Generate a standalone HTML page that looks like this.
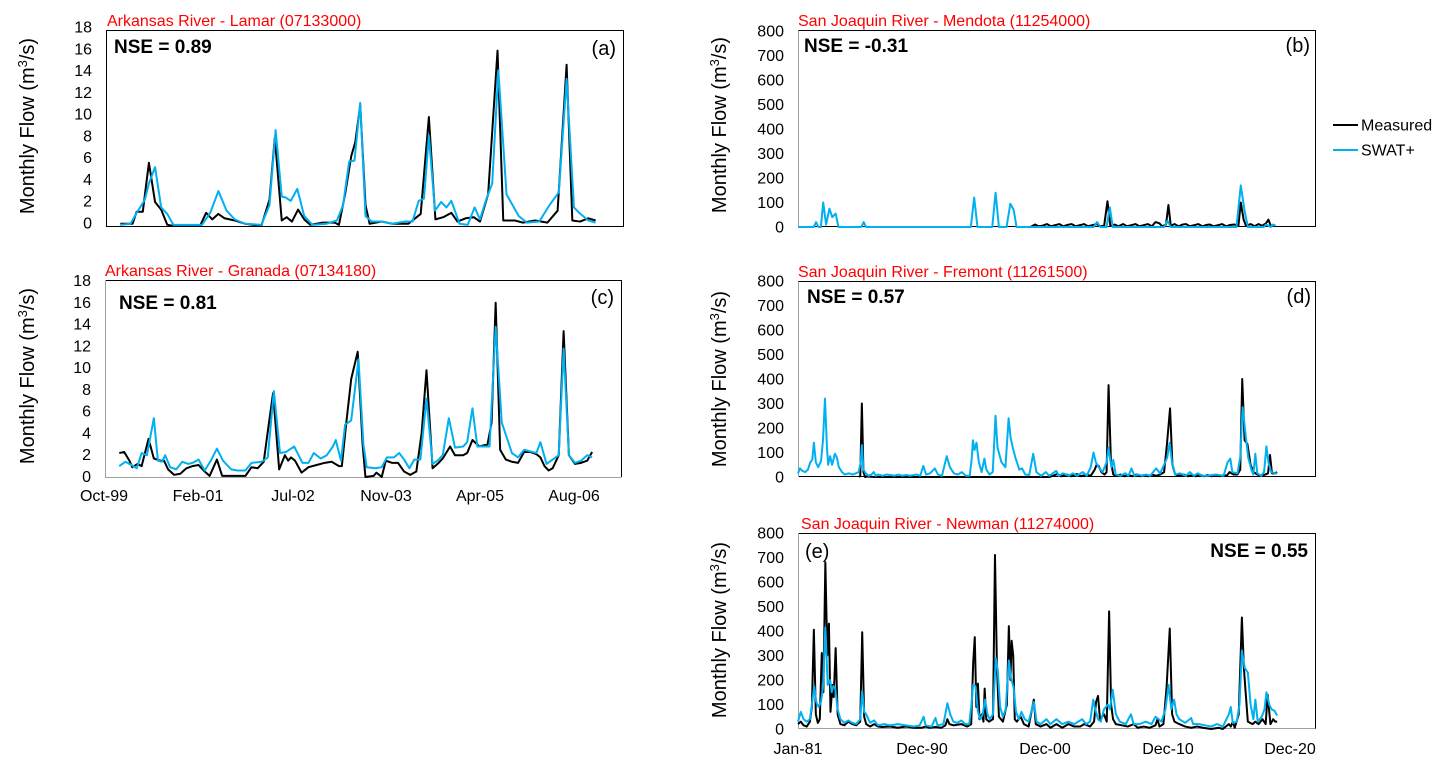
<!DOCTYPE html>
<html>
<head>
<meta charset="utf-8">
<style>
html,body{margin:0;padding:0;background:#fff;}
svg{display:block;font-family:"Liberation Sans",Arial,sans-serif;}
.tl{font-size:16px;fill:#000;}
.ttl{font-size:16px;fill:#ff0000;}
.nse{font-size:19px;font-weight:bold;fill:#000;}
.pl{font-size:20px;fill:#000;}
.yl{font-size:20px;fill:#000;}
.k{fill:none;stroke:#000;stroke-width:2;stroke-linejoin:round;}
.b{fill:none;stroke:#00B0F0;stroke-width:2;stroke-linejoin:round;}
</style>
</head>
<body>
<svg width="1446" height="767" viewBox="0 0 1446 767" xmlns="http://www.w3.org/2000/svg">
<rect width="1446" height="767" fill="#fff"/>

<!-- ================= Panel (a) ================= -->
<text class="ttl" x="107" y="26">Arkansas River - Lamar (07133000)</text>
<text class="yl" transform="translate(34,126) rotate(-90)" text-anchor="middle">Monthly Flow (m<tspan font-size="13" dy="-7">3</tspan><tspan dy="7">/s)</tspan></text>
<g class="tl" text-anchor="end">
<text x="92" y="32.5">18</text><text x="92" y="54.3">16</text><text x="92" y="76.1">14</text>
<text x="92" y="97.8">12</text><text x="92" y="119.6">10</text><text x="92" y="141.4">8</text>
<text x="92" y="163.2">6</text><text x="92" y="184.9">4</text><text x="92" y="206.7">2</text>
<text x="92" y="228.5">0</text>
</g>
<rect x="106.5" y="30.5" width="517" height="196" fill="none" stroke="#000" stroke-width="1"/>
<svg x="106" y="31" width="517" height="196" viewBox="260 -18 1265 18" preserveAspectRatio="none" overflow="visible">
<polyline class="k" vector-effect="non-scaling-stroke" points="295,-0.3 325,-0.3 335,-1.4 350,-1.4 365,-5.9 380,-2.3 395,-1.6 410,-0.2 425,-0.1 490,-0.1 505,-1.3 520,-0.7 535,-1.2 550,-0.8 575,-0.6 600,-0.3 640,-0.1 660,-2.5 673,-8.2 690,-0.6 702,-0.9 715,-0.5 730,-1.6 745,-0.7 760,-0.2 790,-0.4 820,-0.4 830,-0.2 845,-3 860,-6.5 870,-7.8 882,-11.2 895,-2 905,-0.3 920,-0.4 935,-0.5 960,-0.3 1000,-0.3 1030,-1.2 1050,-10.1 1066,-0.7 1085,-0.9 1105,-1.3 1120,-0.5 1140,-0.8 1160,-0.9 1175,-0.5 1195,-3 1218,-16.2 1232,-0.6 1260,-0.6 1280,-0.4 1310,-0.6 1340,-0.4 1365,-1.5 1387,-14.9 1401,-0.6 1420,-0.5 1440,-0.8 1458,-0.6"/>
<polyline class="b" vector-effect="non-scaling-stroke" points="295,-0.2 320,-0.3 335,-1.3 355,-2.5 365,-4 380,-5.5 395,-1.8 410,-1.2 425,-0.2 495,-0.2 515,-1.3 535,-3.3 555,-1.5 575,-0.7 600,-0.3 640,-0.2 660,-2 675,-8.9 690,-2.8 700,-2.7 712,-2.4 728,-3.5 745,-1 765,-0.2 800,-0.3 825,-0.6 840,-2 855,-6 868,-6.1 882,-11.4 895,-1 910,-0.5 935,-0.5 960,-0.3 990,-0.5 1010,-0.5 1025,-2.4 1038,-2.6 1050,-8.4 1065,-1.5 1080,-2.3 1093,-1.8 1105,-2.4 1125,-0.3 1145,-0.2 1162,-1.8 1175,-0.7 1190,-2.5 1205,-4 1220,-14.4 1240,-3 1270,-1 1290,-0.4 1320,-0.5 1345,-2 1368,-3.2 1387,-13.6 1405,-1.8 1418,-1.3 1440,-0.6 1458,-0.4"/>
</svg>
<text class="nse" x="114" y="53">NSE = 0.89</text>
<text class="pl" x="616" y="55" text-anchor="end">(a)</text>

<!-- ================= Panel (c) ================= -->
<text class="ttl" x="105" y="276">Arkansas River - Granada (07134180)</text>
<text class="yl" transform="translate(34,376) rotate(-90)" text-anchor="middle">Monthly Flow (m<tspan font-size="13" dy="-7">3</tspan><tspan dy="7">/s)</tspan></text>
<g class="tl" text-anchor="end">
<text x="91" y="286">18</text><text x="91" y="307.8">16</text><text x="91" y="329.6">14</text>
<text x="91" y="351.3">12</text><text x="91" y="373.1">10</text><text x="91" y="394.9">8</text>
<text x="91" y="416.7">6</text><text x="91" y="438.4">4</text><text x="91" y="460.2">2</text>
<text x="91" y="482">0</text>
</g>
<path d="M105.5 280.5 H621.5 V477" fill="none" stroke="#000" stroke-width="1"/>
<path d="M105.5 280 V477.5 H621.5" fill="none" stroke="#a0a0a0" stroke-width="1"/>
<svg x="105" y="281" width="516" height="196" viewBox="255 -18 1268 18" preserveAspectRatio="none" overflow="visible">
<polyline class="k" vector-effect="non-scaling-stroke" points="290,-2.2 302,-2.3 315,-1.5 322,-0.9 335,-1.2 345,-1 362,-3.5 375,-1.7 390,-1.5 400,-1.5 410,-0.7 425,-0.2 440,-0.3 455,-0.8 470,-1 485,-1.1 500,-0.5 512,-0.1 530,-1.6 543,-0.1 560,-0.1 600,-0.1 615,-0.9 630,-0.8 645,-1.4 658,-5 668,-7.7 683,-0.7 697,-2 705,-1.5 712,-1.8 722,-1.5 738,-0.4 755,-0.9 775,-1.1 795,-1.3 812,-1.4 830,-1 837,-1 848,-5 860,-9 876,-11.5 888,-3 895,0 915,-0.1 922,-0.4 935,0 945,-1.5 960,-1.3 975,-1.3 990,-0.5 1005,-0.2 1020,-0.5 1033,-4 1045,-9.8 1060,-0.8 1075,-1.3 1085,-1.7 1103,-2.8 1115,-2 1135,-2 1145,-2.2 1158,-3.4 1175,-2.8 1195,-3 1205,-5 1215,-16 1226,-2.5 1240,-1.6 1255,-1.4 1270,-1.3 1285,-2.3 1300,-2.3 1315,-2.1 1325,-1.8 1335,-1 1345,-0.6 1355,-0.8 1370,-2 1382,-13.4 1395,-2 1410,-1.2 1425,-1.3 1440,-1.5 1452,-2.3"/>
<polyline class="b" vector-effect="non-scaling-stroke" points="290,-1 305,-1.4 320,-1.1 333,-0.8 345,-2.2 358,-2 375,-5.4 385,-1.5 395,-1.4 403,-2 415,-0.9 430,-0.7 445,-1.4 460,-1.2 470,-1.3 485,-1.6 500,-0.6 515,-1.5 530,-2.6 545,-1.5 565,-0.7 580,-0.6 600,-0.6 615,-1.3 640,-1.4 655,-1.8 670,-7.9 685,-2.2 700,-2.3 720,-2.8 740,-1.3 755,-1.3 768,-2.2 785,-1.7 800,-2 815,-2.8 822,-3.4 835,-1.5 845,-4.8 860,-5.2 878,-10.8 890,-3 898,-0.9 920,-0.8 935,-0.9 948,-1.8 965,-1.8 978,-2.2 990,-1.6 1003,-0.8 1015,-1.6 1030,-1.6 1045,-7.2 1060,-1.2 1072,-1.5 1085,-2 1100,-5.4 1115,-2.7 1135,-2.8 1145,-3.2 1158,-6.3 1170,-2.8 1190,-2.8 1200,-2.8 1215,-13.8 1230,-5 1255,-2.2 1270,-1.8 1285,-2.5 1305,-2.3 1315,-2.2 1325,-3.2 1340,-1.2 1355,-1.6 1370,-2 1382,-11.8 1395,-2 1410,-1.3 1425,-1.5 1440,-2 1452,-1.8"/>
</svg>
<text class="nse" x="119" y="309">NSE = 0.81</text>
<text class="pl" x="614" y="304" text-anchor="end">(c)</text>
<g class="tl" text-anchor="middle">
<text x="104" y="501">Oct-99</text><text x="198" y="501">Feb-01</text><text x="293" y="501">Jul-02</text>
<text x="386" y="501">Nov-03</text><text x="480" y="501">Apr-05</text><text x="574" y="501">Aug-06</text>
</g>

<!-- ================= Panel (b) ================= -->
<text class="ttl" x="798" y="26">San Joaquin River - Mendota (11254000)</text>
<text class="yl" transform="translate(726,125) rotate(-90)" text-anchor="middle">Monthly Flow (m<tspan font-size="13" dy="-7">3</tspan><tspan dy="7">/s)</tspan></text>
<g class="tl" text-anchor="end">
<text x="784" y="36.5">800</text><text x="784" y="61">700</text><text x="784" y="85.5">600</text>
<text x="784" y="110">500</text><text x="784" y="134.5">400</text><text x="784" y="159">300</text>
<text x="784" y="183.5">200</text><text x="784" y="208">100</text><text x="784" y="232.5">0</text>
</g>
<path d="M798 30.5 H1315.5 V226.5 H798" fill="none" stroke="#000" stroke-width="1"/>
<path d="M798.5 30.5 V227" fill="none" stroke="#a0a0a0" stroke-width="1"/>
<svg x="798" y="31" width="518" height="196" viewBox="207 -800 1088 800" preserveAspectRatio="none" overflow="visible">
<polyline class="k" vector-effect="non-scaling-stroke" points="695,0 705,-10 712,-3 720,-5 730,-12 738,-3 748,-8 756,-12 764,-3 772,-8 782,-12 790,-3 800,-8 808,-12 816,-3 826,-8 834,-12 842,-3 850,-5 857,-105 863,-5 872,-10 880,-3 890,-12 898,-3 908,-8 916,-12 924,-3 934,-8 942,-12 950,-3 958,-20 966,-15 972,-3 980,-10 985,-90 990,-5 998,-12 1006,-3 1015,-10 1022,-12 1030,-3 1040,-8 1048,-12 1056,-3 1064,-8 1072,-10 1080,-3 1090,-8 1098,-12 1106,-3 1114,-8 1124,-10 1132,-5 1137,-100 1143,-30 1148,-5 1158,-12 1166,-3 1174,-12 1182,-5 1190,-15 1195,-30 1200,-5 1210,-5"/>
<polyline class="b" vector-effect="non-scaling-stroke" points="207,0 240,0 245,-20 250,0 255,0 260,-100 266,-10 273,-75 279,-40 286,-55 292,0 340,0 345,-20 350,0 570,0 577,-120 584,0 615,0 622,-140 629,0 645,0 653,-95 660,-70 666,0 828,0 835,-20 842,0 855,0 862,-80 868,0 976,0 983,-25 990,0 1128,0 1137,-170 1145,-65 1152,0 1185,0 1190,-10 1200,0 1205,-10 1210,-5"/>
</svg>
<text class="nse" x="804" y="52">NSE = -0.31</text>
<text class="pl" x="1310" y="52" text-anchor="end">(b)</text>

<!-- Legend -->
<line x1="1333" y1="125" x2="1358" y2="125" stroke="#000" stroke-width="2"/>
<text class="tl" x="1361" y="130.5">Measured</text>
<line x1="1333" y1="150" x2="1358" y2="150" stroke="#00B0F0" stroke-width="2"/>
<text class="tl" x="1361" y="155.5">SWAT+</text>

<!-- ================= Panel (d) ================= -->
<text class="ttl" x="798" y="277">San Joaquin River - Fremont (11261500)</text>
<text class="yl" transform="translate(726,379) rotate(-90)" text-anchor="middle">Monthly Flow (m<tspan font-size="13" dy="-7">3</tspan><tspan dy="7">/s)</tspan></text>
<g class="tl" text-anchor="end">
<text x="784" y="286.5">800</text><text x="784" y="311">700</text><text x="784" y="335.5">600</text>
<text x="784" y="360">500</text><text x="784" y="384.5">400</text><text x="784" y="409">300</text>
<text x="784" y="433.5">200</text><text x="784" y="458">100</text><text x="784" y="482.5">0</text>
</g>
<path d="M798 281.5 H1315.5 V476.5 H798" fill="none" stroke="#000" stroke-width="1"/>
<path d="M798.5 281.5 V477" fill="none" stroke="#a0a0a0" stroke-width="1"/>
<svg x="798" y="281" width="518" height="196" viewBox="247 -800 1306 800" preserveAspectRatio="none" overflow="visible">
<polyline class="k" vector-effect="non-scaling-stroke" points="400,0 404,-5 408,-300 412,-20 416,0 420,-2 440,0 480,0 520,0 560,0 600,0 640,0 680,0 720,0 760,0 800,0 840,0 880,0 890,-5 900,-12 910,-3 925,-10 935,-3 950,-12 960,-3 975,-10 985,-5 995,-30 1000,-50 1005,-45 1012,-20 1020,-10 1025,-20 1030,-375 1036,-60 1042,-10 1050,-5 1060,-10 1070,-3 1080,-8 1090,-3 1100,-10 1110,-3 1120,-8 1130,-3 1140,-10 1150,-5 1160,-10 1170,-20 1177,-130 1185,-280 1191,-50 1198,-10 1210,-5 1220,-10 1230,-3 1240,-8 1250,-3 1260,-10 1270,-3 1280,-8 1290,-3 1300,-10 1310,-3 1320,-8 1328,-5 1335,-20 1345,-10 1355,-10 1362,-30 1367,-400 1373,-150 1380,-135 1388,-50 1396,-20 1405,-10 1415,-5 1425,-10 1432,-15 1437,-90 1442,-15 1450,-15 1455,-20"/>
<polyline class="b" vector-effect="non-scaling-stroke" points="247,-15 252,-35 258,-25 265,-20 272,-30 278,-60 283,-70 287,-140 292,-60 298,-40 305,-65 310,-150 315,-320 320,-120 323,-50 328,-85 333,-50 340,-95 345,-80 350,-40 358,-20 365,-10 375,-15 385,-10 393,-15 400,-20 405,-60 408,-130 412,-30 418,-15 425,-5 432,-10 438,-20 443,-5 450,-10 460,-5 470,-10 480,-8 490,-5 500,-10 510,-5 520,-8 530,-5 545,-10 555,-5 563,-45 570,-10 580,-15 592,-35 600,-10 610,-5 622,-85 630,-40 640,-15 650,-10 660,-20 670,-5 680,-5 685,-75 688,-150 692,-110 697,-140 703,-60 710,-20 717,-75 722,-30 730,-10 738,-20 745,-250 750,-120 760,-60 770,-40 778,-240 783,-160 790,-110 795,-80 805,-30 812,-35 820,-10 830,-8 840,-95 848,-20 860,-5 872,-20 880,-5 898,-25 905,-5 915,-15 930,-5 940,-15 950,-5 965,-20 975,-5 985,-40 992,-100 998,-60 1005,-40 1015,-20 1025,-60 1030,-120 1037,-40 1042,-70 1048,-10 1060,-5 1072,-15 1080,-5 1088,-35 1095,-5 1105,-10 1115,-5 1125,-10 1135,-5 1150,-35 1160,-15 1170,-50 1178,-80 1184,-140 1190,-60 1198,-10 1210,-15 1225,-5 1235,-20 1245,-5 1255,-15 1265,-5 1280,-5 1300,-10 1320,-5 1330,-60 1337,-75 1342,-20 1355,-15 1362,-80 1368,-285 1375,-180 1382,-80 1390,-30 1395,-10 1400,-95 1405,-15 1415,-5 1422,-20 1428,-125 1433,-60 1440,-20 1450,-15 1455,-15"/>
</svg>
<text class="nse" x="807" y="303">NSE = 0.57</text>
<text class="pl" x="1311" y="303" text-anchor="end">(d)</text>

<!-- ================= Panel (e) ================= -->
<text class="ttl" x="801" y="529">San Joaquin River - Newman (11274000)</text>
<text class="yl" transform="translate(726,630) rotate(-90)" text-anchor="middle">Monthly Flow (m<tspan font-size="13" dy="-7">3</tspan><tspan dy="7">/s)</tspan></text>
<g class="tl" text-anchor="end">
<text x="784" y="538.5">800</text><text x="784" y="563">700</text><text x="784" y="587.5">600</text>
<text x="784" y="612">500</text><text x="784" y="636.5">400</text><text x="784" y="661">300</text>
<text x="784" y="685.5">200</text><text x="784" y="710">100</text><text x="784" y="734.5">0</text>
</g>
<path d="M798 533.5 H1315.5 V729" fill="none" stroke="#000" stroke-width="1"/>
<path d="M798.5 533 V728.5 H1315.5" fill="none" stroke="#a0a0a0" stroke-width="1"/>
<svg x="798" y="533" width="518" height="196" viewBox="248 -800 1307 800" preserveAspectRatio="none" overflow="visible">
<polyline class="k" vector-effect="non-scaling-stroke" points="248,-20 255,-30 262,-15 270,-10 278,-30 283,-90 288,-405 293,-60 298,-25 303,-40 308,-310 312,-150 317,-680 322,-300 326,-430 330,-70 335,-180 338,-130 343,-330 348,-60 355,-20 365,-15 375,-30 385,-20 395,-15 405,-30 410,-395 415,-50 420,-20 430,-10 440,-20 450,-10 460,-8 480,-10 500,-5 520,-10 540,-5 560,-5 570,-10 580,-5 595,-8 610,-5 620,-15 625,-40 630,-20 640,-15 660,-20 675,-10 685,-20 690,-270 694,-375 698,-90 702,-185 706,-40 712,-60 716,-30 719,-165 723,-40 730,-30 740,-40 745,-710 750,-250 755,-50 765,-30 775,-100 780,-420 784,-200 787,-360 791,-300 795,-40 800,-30 810,-50 818,-20 830,-10 843,-120 848,-20 860,-10 875,-20 885,-5 900,-20 915,-5 930,-20 945,-10 960,-10 970,-20 985,-10 995,-30 1000,-110 1005,-135 1010,-40 1020,-60 1027,-30 1033,-480 1038,-100 1043,-40 1050,-20 1065,-15 1080,-10 1095,-20 1105,-5 1120,-10 1135,-5 1150,-15 1155,-40 1160,-10 1170,-20 1178,-170 1186,-410 1192,-60 1198,-30 1210,-20 1225,-10 1240,-5 1255,-10 1270,-5 1290,0 1310,-5 1320,0 1335,-20 1340,-10 1345,-30 1350,-5 1360,-60 1368,-455 1373,-250 1377,-160 1383,-30 1395,-20 1402,-30 1410,-20 1420,-40 1428,-20 1433,-140 1440,-20 1447,-40 1452,-30 1457,-30"/>
<polyline class="b" vector-effect="non-scaling-stroke" points="248,-30 255,-70 262,-40 270,-30 278,-40 283,-100 289,-175 294,-110 300,-90 306,-110 311,-170 317,-415 323,-180 329,-200 333,-150 337,-175 342,-165 348,-80 355,-40 365,-25 375,-35 385,-25 395,-20 405,-40 410,-155 415,-70 420,-60 430,-25 440,-35 450,-15 465,-20 480,-15 500,-20 520,-15 540,-10 555,-15 565,-50 570,-15 585,-10 595,-45 600,-15 615,-20 625,-105 632,-60 640,-30 650,-25 660,-35 670,-20 680,-20 685,-90 690,-180 696,-175 702,-70 708,-40 714,-60 720,-120 726,-60 732,-40 740,-60 747,-290 752,-240 758,-90 765,-50 772,-80 780,-280 785,-210 792,-170 798,-70 805,-40 812,-70 820,-40 830,-30 843,-110 850,-30 860,-20 875,-40 885,-20 900,-40 915,-20 930,-30 945,-20 965,-40 975,-20 985,-30 993,-120 998,-80 1005,-40 1012,-30 1020,-80 1030,-100 1035,-80 1042,-160 1050,-60 1060,-30 1075,-20 1088,-60 1095,-20 1110,-20 1125,-30 1140,-20 1150,-50 1158,-40 1165,-30 1175,-80 1183,-180 1190,-80 1197,-120 1203,-60 1210,-40 1225,-25 1240,-45 1245,-20 1260,-20 1275,-15 1290,-10 1305,-20 1320,-10 1335,-60 1340,-90 1345,-25 1355,-30 1362,-100 1368,-320 1375,-250 1383,-230 1390,-100 1397,-40 1402,-120 1408,-30 1418,-50 1425,-80 1430,-150 1437,-100 1443,-80 1450,-75 1457,-55"/>
</svg>
<text class="pl" x="805" y="558">(e)</text>
<text class="nse" x="1308" y="557" text-anchor="end">NSE = 0.55</text>
<g class="tl" text-anchor="middle">
<text x="798" y="754">Jan-81</text><text x="922" y="754">Dec-90</text><text x="1045" y="754">Dec-00</text>
<text x="1168" y="754">Dec-10</text><text x="1290" y="754">Dec-20</text>
</g>
</svg>
</body>
</html>
